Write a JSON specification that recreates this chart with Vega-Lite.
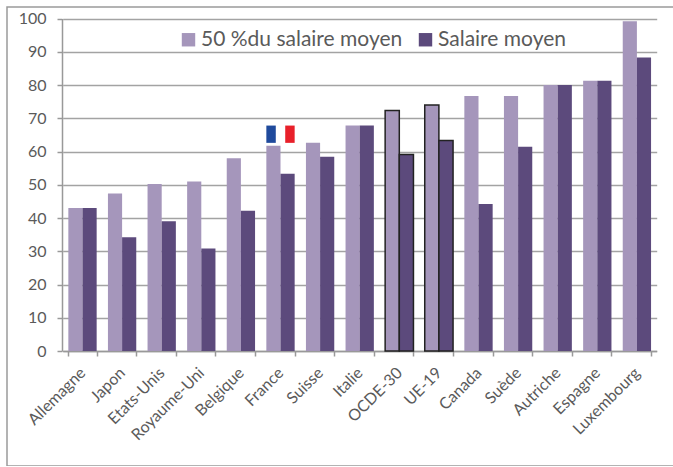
{"$schema":"https://vega.github.io/schema/vega-lite/v6.json","width":670,"height":459,"autosize":"none","padding":{"left":7,"top":7,"right":0,"bottom":0},"background":"white","view":{"stroke":"#9a9a9a","strokeWidth":1.5,"fill":"white"},"config":{"font":"Lato"},"datasets":{"salaires":[{"pays":"Allemagne","serie":"50 %du salaire moyen","valeur":43},{"pays":"Allemagne","serie":"Salaire moyen","valeur":43},{"pays":"Japon","serie":"50 %du salaire moyen","valeur":47.4},{"pays":"Japon","serie":"Salaire moyen","valeur":34.2},{"pays":"Etats-Unis","serie":"50 %du salaire moyen","valeur":50.2},{"pays":"Etats-Unis","serie":"Salaire moyen","valeur":39},{"pays":"Royaume-Uni","serie":"50 %du salaire moyen","valeur":51},{"pays":"Royaume-Uni","serie":"Salaire moyen","valeur":30.8},{"pays":"Belgique","serie":"50 %du salaire moyen","valeur":58},{"pays":"Belgique","serie":"Salaire moyen","valeur":42.2},{"pays":"France","serie":"50 %du salaire moyen","valeur":61.7},{"pays":"France","serie":"Salaire moyen","valeur":53.3},{"pays":"Suisse","serie":"50 %du salaire moyen","valeur":62.6},{"pays":"Suisse","serie":"Salaire moyen","valeur":58.4},{"pays":"Italie","serie":"50 %du salaire moyen","valeur":67.8},{"pays":"Italie","serie":"Salaire moyen","valeur":67.8},{"pays":"OCDE-30","serie":"50 %du salaire moyen","valeur":72.3},{"pays":"OCDE-30","serie":"Salaire moyen","valeur":59.1},{"pays":"UE-19","serie":"50 %du salaire moyen","valeur":74},{"pays":"UE-19","serie":"Salaire moyen","valeur":63.3},{"pays":"Canada","serie":"50 %du salaire moyen","valeur":76.7},{"pays":"Canada","serie":"Salaire moyen","valeur":44.2},{"pays":"Suède","serie":"50 %du salaire moyen","valeur":76.7},{"pays":"Suède","serie":"Salaire moyen","valeur":61.4},{"pays":"Autriche","serie":"50 %du salaire moyen","valeur":80},{"pays":"Autriche","serie":"Salaire moyen","valeur":80},{"pays":"Espagne","serie":"50 %du salaire moyen","valeur":81.3},{"pays":"Espagne","serie":"Salaire moyen","valeur":81.3},{"pays":"Luxembourg","serie":"50 %du salaire moyen","valeur":99.2},{"pays":"Luxembourg","serie":"Salaire moyen","valeur":88.3}],"drapeau":[{"pays":"France","bande":"bleu","bas":62.6,"haut":67.8},{"pays":"France","bande":"rouge","bas":62.6,"haut":67.8}]},"layer":[{"data":{"name":"salaires"},"mark":{"type":"bar","strokeWidth":1.5},"encoding":{"x":{"field":"pays","type":"nominal","sort":null,"title":null,"scale":{"range":[55.7,649.7],"paddingInner":0.285,"paddingOuter":0.1425},"axis":{"orient":"bottom","offset":-115,"tickBand":"extent","labelAngle":-45,"labelAlign":"right","labelBaseline":"middle","labelFontSize":16,"labelColor":"#5a5a5a","labelPadding":14,"tickSize":5,"tickColor":"#999999","tickWidth":1.5,"domainColor":"#999999","domainWidth":1.5,"grid":false}},"xOffset":{"field":"serie","type":"nominal","scale":{"domain":["50 %du salaire moyen","Salaire moyen"],"paddingInner":0,"paddingOuter":0}},"y":{"field":"valeur","type":"quantitative","title":null,"scale":{"domain":[0,100],"range":[344,11.5],"nice":false},"axis":{"orient":"left","offset":-55,"values":[0,10,20,30,40,50,60,70,80,90,100],"labelFontSize":16,"labelColor":"#5a5a5a","labelPadding":11,"tickSize":5,"tickColor":"#999999","tickWidth":1.5,"domainColor":"#999999","domainWidth":1.5,"grid":true,"gridColor":"#a3a3a3","gridWidth":1.5}},"color":{"field":"serie","type":"nominal","scale":{"domain":["50 %du salaire moyen","Salaire moyen"],"range":["#a596bb","#5c4a7c"]},"legend":{"orient":"none","legendX":171,"legendY":22,"direction":"horizontal","columns":2,"title":null,"symbolType":"square","symbolSize":180,"symbolStrokeWidth":0,"labelFontSize":21,"labelColor":"#5a5a5a","labelLimit":300,"labelOffset":2,"columnPadding":12,"symbolOffset":0}},"stroke":{"condition":{"test":"datum.pays==='OCDE-30'||datum.pays==='UE-19'","value":"#222222"},"value":null}}},{"data":{"name":"drapeau"},"mark":{"type":"bar"},"encoding":{"x":{"field":"pays","type":"nominal","sort":null},"xOffset":{"field":"bande","type":"nominal","scale":{"domain":["bleu","blanc","rouge"],"paddingInner":0,"paddingOuter":0}},"y":{"field":"bas","type":"quantitative"},"y2":{"field":"haut"},"fill":{"field":"bande","type":"nominal","scale":{"domain":["bleu","rouge"],"range":["#1f4a9c","#e8202a"]},"legend":null}}}],"resolve":{"scale":{"xOffset":"independent"}}}
